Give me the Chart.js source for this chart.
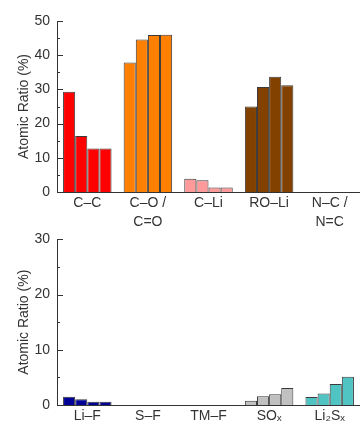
<!DOCTYPE html>
<html>
<head>
  <meta charset="UTF-8">
  <title>Atomic Ratio</title>
  <script src="https://cdn.jsdelivr.net/npm/chart.js"></script>
  <style>
    body { margin: 0; background: #fff; }
    .box { position: absolute; left: 0; width: 360px; }
    #topBox { top: 0; height: 235px; }
    #bottomBox { top: 224px; height: 199px; }
  </style>
</head>
<body>
<div class="box" id="topBox"><canvas id="topChart"></canvas></div>
<div class="box" id="bottomBox"><canvas id="bottomChart"></canvas></div>

<script>
  // top panel
  var topLabels = [['C–C'], ['C–O /', 'C=O'], ['C–Li'], ['RO–Li'], ['N–C /', 'N=C']];
  var topColors = ['#ff0000', '#ff8000', '#ff9a9a', '#834100', '#cccccc'];
  var topS1 = [29.3, 37.9, 3.9, 25.0, 0];
  var topS2 = [16.4, 44.6, 3.4, 30.7, 0];
  var topS3 = [12.7, 45.9, 1.3, 33.7, 0];
  var topS4 = [12.7, 46.0, 1.3, 31.2, 0];

  // bottom panel
  var bottomLabels = ['Li–F', 'S–F', 'TM–F', 'SOₓ', 'Li₂Sₓ'];
  var bottomColors = ['#000096', '#888888', '#888888', '#c0c0c0', '#4fc4c2'];
  var bottomS1 = [1.5, 0, 0, 0.75, 1.45];
  var bottomS2 = [1.05, 0, 0, 1.6, 2.1];
  var bottomS3 = [0.6, 0, 0, 1.95, 3.8];
  var bottomS4 = [0.6, 0, 0, 3.1, 5.1];

  Chart.defaults.font.family = '"Liberation Sans", Arial, sans-serif';
  Chart.defaults.font.size = 14;
  Chart.defaults.color = '#333';

  // ticks pointing into the plot, major every 10, minor every 5
  var inwardTicks = {
    id: 'inwardTicks',
    afterDraw: function(chart) {
      var y = chart.scales.y, ctx = chart.ctx, left = chart.chartArea.left;
      ctx.save();
      ctx.strokeStyle = '#333';
      ctx.lineWidth = 1;
      for (var v = y.min; v <= y.max; v += 5) {
        var py = Math.round(y.getPixelForValue(v)) + 0.5;
        var len = v % 10 === 0 ? 6 : 3;
        ctx.beginPath();
        ctx.moveTo(left, py);
        ctx.lineTo(left + len, py);
        ctx.stroke();
      }
      ctx.restore();
    }
  };

  function makeChart(id, labels, colors, series, yMax, padTop, xHeight) {
    var ctx = document.getElementById(id).getContext('2d');
    return new Chart(ctx, {
      type: 'bar',
      data: {
        labels: labels,
        datasets: series.map(function(s) {
          return {
            data: s,
            backgroundColor: colors,
            borderColor: '#3a3a3a',
            borderWidth: 1,
            categoryPercentage: 0.8,
            barPercentage: 1
          };
        })
      },
      options: {
        responsive: true,
        maintainAspectRatio: false,
        animation: false,
        layout: { padding: { top: padTop, left: 0, right: 0, bottom: 0 } },
        plugins: { legend: { display: false }, tooltip: { enabled: false } },
        scales: {
          x: {
            grid: { display: false, drawTicks: false },
            border: { display: true, color: '#333', width: 1 },
            ticks: { padding: 1, maxRotation: 0, autoSkip: false, font: { size: 14, lineHeight: 1.4 } },
            afterFit: function(scale) { scale.height = xHeight; }
          },
          y: {
            min: 0,
            max: yMax,
            grid: { display: false, drawTicks: false },
            border: { display: true, color: '#333', width: 1 },
            ticks: { stepSize: 10, padding: 7 },
            title: { display: true, text: 'Atomic Ratio (%)', padding: { top: 15.6, bottom: 0 } },
            afterFit: function(scale) { scale.width = 57; }
          }
        }
      },
      plugins: [inwardTicks]
    });
  }

  makeChart('topChart', topLabels, topColors, [topS1, topS2, topS3, topS4], 50, 21, 43);
  makeChart('bottomChart', bottomLabels, bottomColors, [bottomS1, bottomS2, bottomS3, bottomS4], 30, 10, 18);
</script>
</body>
</html>
